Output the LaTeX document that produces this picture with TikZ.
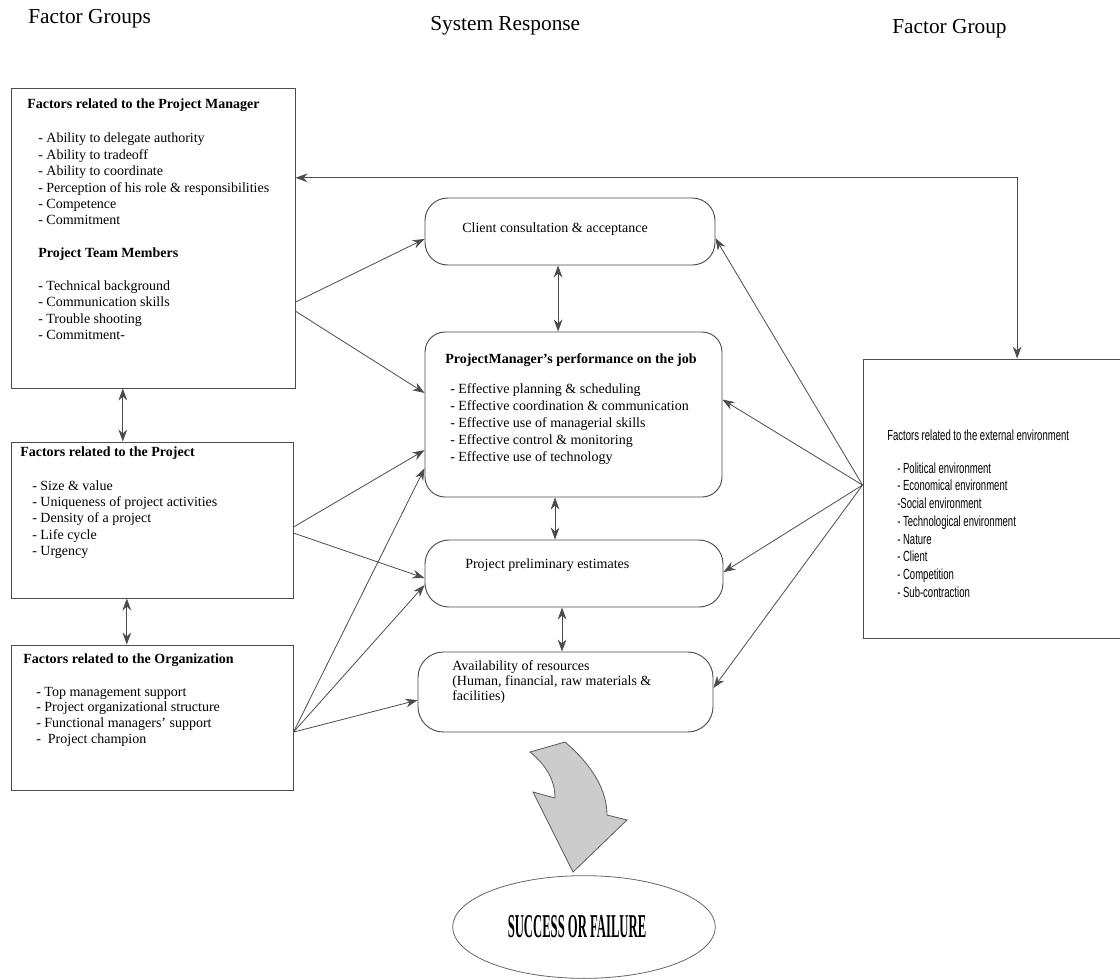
\documentclass[tikz,border=0pt]{standalone}
\usepackage{fontspec}
\setmainfont{Liberation Serif}
\newfontfamily\narrowsans[FakeStretch=0.65]{Liberation Sans}
\newfontfamily\tallserif[FakeStretch=0.38]{Liberation Serif}
\usetikzlibrary{arrows.meta,calc,fit,shapes.geometric}

\begin{document}
\begin{tikzpicture}[x=0.75pt,y=-0.75pt,
  box/.style={draw=black!70,line width=0.7pt,inner sep=0pt},
  pill/.style={box,rounded corners=#1},
  txt/.style={inner sep=0pt,anchor=west,align=left,font=\fontsize{10.5}{12.3}\selectfont},
  head/.style={inner sep=0pt,anchor=west,font=\fontsize{10.5}{12.3}\selectfont\bfseries},
  colhead/.style={inner sep=0pt,anchor=west,font=\fontsize{16}{19}\selectfont},
  extxt/.style={inner sep=0pt,anchor=west,align=left,font=\narrowsans\fontsize{11}{13.3}\selectfont},
  conn/.style={draw=black!70,line width=0.6pt,-{Stealth[length=9pt,width=6.5pt]}},
  both/.style={draw=black!70,line width=0.6pt,{Stealth[length=9pt,width=6.5pt]}-{Stealth[length=9pt,width=6.5pt]}},
]
\clip (0,0) rectangle (1120,979);
\fill[white] (0,0) rectangle (1120,979);

% column headings
\node[colhead] (hleft)  at (28,19)  {Factor Groups};
\node[colhead] (hmid)   at (430,26) {System Response};
\node[colhead] (hright) at (892,29) {Factor Group};

% left column: factor groups
\node[box,fit={(11,88) (295,388)}]  (pm)   {};
\node[box,fit={(11,442) (293,598)}] (proj) {};
\node[box,fit={(11,645) (293,790)}] (org)  {};

\node[head] (pmT) at (27,105) {Factors related to the Project Manager};
\node[txt] (pmL) at (38,236.5) {- Ability to delegate authority\\
- Ability to tradeoff\\
- Ability to coordinate\\
- Perception of his role \& responsibilities\\
- Competence\\
- Commitment\\[12.3pt]
\textbf{Project Team Members}\\[12.3pt]
- Technical background\\
- Communication skills\\
- Trouble shooting\\
- Commitment-};

\node[head] (projT) at (20,453) {Factors related to the Project};
\node[txt] (projL) at (32,519.5) {- Size \& value\\
- Uniqueness of project activities\\
- Density of a project\\
- Life cycle\\
- Urgency};

\node[head] (orgT) at (23,660) {Factors related to the Organization};
\node[txt,font=\fontsize{10.5}{11.8}\selectfont] (orgL) at (36,716.5) {- Top management support\\
- Project organizational structure\\
- Functional managers' support\\
-\ \ Project champion};

% middle column: system response
\node[pill=17pt,fit={(425,198) (715,265)}] (client) {};
\node[pill=15pt,fit={(425,332) (722,497)}] (perf)   {};
\node[pill=18pt,fit={(425,540) (723,607)}] (est)    {};
\node[pill=19pt,fit={(418,652) (713,732)}] (avail)  {};

\node[txt] (clientT) at (462,229) {Client consultation \& acceptance};
\node[head] (perfT) at (445,360) {ProjectManager's performance on the job};
\node[txt,font=\fontsize{10.5}{12.75}\selectfont] (perfL) at (450,424) {- Effective planning \& scheduling\\
- Effective coordination \& communication\\
- Effective use of managerial skills\\
- Effective control \& monitoring\\
- Effective use of technology};
\node[txt] (estT) at (465,565) {Project preliminary estimates};
\node[txt,font=\fontsize{10.5}{11.4}\selectfont] (availT) at (452,682) {Availability of resources\\
(Human, financial, raw materials \&\\
facilities)};

% right column: external environment
\node[box,fit={(863,359) (1130,638)}] (ext) {};
\node[extxt] (extT) at (887,435) {Factors related to the external environment};
\node[extxt] (extL) at (897,530) {- Political environment\\
- Economical environment\\
-Social environment\\
- Technological environment\\
- Nature\\
- Client\\
- Competition\\
- Sub-contraction};

% outcome
\node[draw=black!60,line width=0.6pt,ellipse,minimum width=197pt,minimum height=77pt,inner sep=0pt] (out) at (584,927) {};
\node[inner sep=0pt,font=\tallserif\bfseries\fontsize{25}{28}\selectfont] (outT) at (577,927) {SUCCESS OR FAILURE};

% curved block arrow towards the outcome
\draw[draw=black!65,line width=0.6pt,fill=black!20]
  (530,752) -- (565,742) .. controls (592,765) and (607,790) .. (607,815)
  -- (627,820) -- (573,872) -- (533,792) -- (555,798)
  .. controls (555,780) and (546,765) .. cycle;

% left column to system response
\draw[conn] ($(pm.north east)!0.713!(pm.south east)$) -- ($(client.north west)!0.61!(client.south west)$);
\draw[conn] ($(pm.north east)!0.743!(pm.south east)$) -- ($(perf.north west)!0.37!(perf.south west)$);
\draw[conn] ($(proj.north east)!0.545!(proj.south east)$) -- ($(perf.north west)!0.715!(perf.south west)$);
\draw[conn] ($(proj.north east)!0.583!(proj.south east)$) -- ($(est.north west)!0.567!(est.south west)$);
\coordinate (orgOut) at ($(org.north east)!0.6!(org.south east)$);
\draw[conn] (orgOut) -- ($(perf.north west)!0.824!(perf.south west)$);
\draw[conn] (orgOut) -- ($(est.north west)!0.67!(est.south west)$);
\draw[conn] (orgOut) -- ($(avail.north west)!0.6!(avail.south west)$);

% external environment to system response
\coordinate (extOut) at ($(ext.north west)!0.452!(ext.south west)$);
\draw[conn] (extOut) -- ($(client.north east)!0.6!(client.south east)$);
\draw[conn] (extOut) -- ($(perf.north east)!0.41!(perf.south east)$);
\draw[conn] (extOut) -- ($(est.north east)!0.48!(est.south east)$);
\draw[conn] (extOut) -- ($(avail.north east)!0.45!(avail.south east)$);

% project manager <-> external environment
\draw[both] ($(pm.north east)!0.3!(pm.south east)$) -| ($(ext.north west)!0.577!(ext.north east)$);

% links between neighbouring boxes
\coordinate (v1) at ($(client.south west)!0.459!(client.south east)$);
\draw[both] (v1) -- (v1 |- perf.north);
\coordinate (v2) at ($(perf.south west)!0.438!(perf.south east)$);
\draw[both] (v2) -- (v2 |- est.north);
\coordinate (v3) at ($(est.south west)!0.46!(est.south east)$);
\draw[both] (v3) -- (v3 |- avail.north);
\coordinate (v4) at ($(pm.south west)!0.394!(pm.south east)$);
\draw[both] (v4) -- (v4 |- proj.north);
\coordinate (v5) at ($(proj.south west)!0.411!(proj.south east)$);
\draw[both] (v5) -- (v5 |- org.north);
\end{tikzpicture}
\end{document}
